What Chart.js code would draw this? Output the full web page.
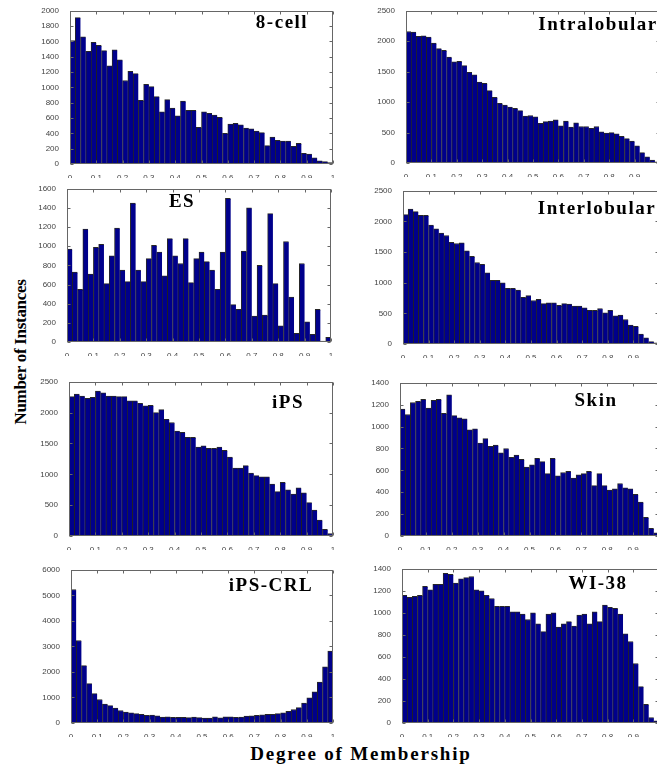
<!DOCTYPE html>
<html>
<head>
<meta charset="utf-8">
<script src="https://cdn.jsdelivr.net/npm/chart.js@4.4.1/dist/chart.umd.min.js"></script>
<style>
    html, body { margin: 0; padding: 0; background: #fff; }
    body { width: 657px; height: 767px; overflow: hidden; position: relative; }
    .panel { position: absolute; }
    .panel canvas { display: block; }
    .title {
        position: absolute;
        font: bold 19px "Liberation Serif", "Times New Roman", serif;
        letter-spacing: 1.5px;
        line-height: 19px;
        color: #000;
        white-space: nowrap;
        transform: translateX(-50%);
    }
    #yTitle {
        position: absolute;
        left: 21px; top: 352px;
        font: bold 17px "Liberation Serif", "Times New Roman", serif;
        letter-spacing: -0.3px;
        white-space: nowrap;
        transform: translate(-50%, -50%) rotate(-90deg);
    }
    #xTitle {
        position: absolute;
        left: 361px; top: 744px;
        font: bold 19px "Liberation Serif", "Times New Roman", serif;
        letter-spacing: 1.8px;
        line-height: 19px;
        white-space: nowrap;
        transform: translateX(-50%);
    }
</style>
</head>
<body>
<div id="yTitle">Number of Instances</div>
<div id="xTitle">Degree of Membership</div>

<script>
// bin centres (50 bins of width 0.02)
const binCenters = [0.01, 0.03, 0.05, 0.07, 0.09, 0.11, 0.13, 0.15, 0.17, 0.19,
    0.21, 0.23, 0.25, 0.27, 0.29, 0.31, 0.33, 0.35, 0.37, 0.39,
    0.41, 0.43, 0.45, 0.47, 0.49, 0.51, 0.53, 0.55, 0.57, 0.59,
    0.61, 0.63, 0.65, 0.67, 0.69, 0.71, 0.73, 0.75, 0.77, 0.79,
    0.81, 0.83, 0.85, 0.87, 0.89, 0.91, 0.93, 0.95, 0.97, 0.99];
const xTickLabels = ['0', '0.1', '0.2', '0.3', '0.4', '0.5', '0.6', '0.7', '0.8', '0.9', '1'];

const cell8 = [1610, 1910, 1660, 1470, 1590, 1550, 1480, 1280, 1490, 1360,
    1090, 1210, 1180, 830, 1040, 1010, 880, 680, 840, 730,
    630, 820, 700, 700, 480, 680, 660, 640, 610, 400,
    520, 530, 510, 470, 460, 430, 410, 240, 350, 310,
    300, 300, 230, 270, 140, 130, 80, 40, 30, 20];
const intralobular = [2160, 2150, 2080, 2090, 2070, 1970, 1880, 1850, 1740, 1660,
    1670, 1600, 1490, 1450, 1330, 1310, 1190, 1080, 980, 950,
    920, 900, 860, 770, 780, 760, 650, 680, 690, 710,
    610, 690, 590, 660, 600, 600, 570, 600, 510, 490,
    500, 480, 440, 400, 360, 280, 170, 100, 50, 20];
const es = [970, 730, 550, 1180, 710, 990, 1020, 610, 900, 1190,
    750, 630, 1450, 750, 630, 870, 1010, 940, 690, 1080,
    900, 820, 1080, 620, 870, 940, 840, 750, 550, 940,
    1500, 390, 340, 950, 1400, 270, 800, 280, 1340, 610,
    170, 1050, 470, 90, 820, 210, 80, 340, 10, 50];
const interlobular = [2110, 2200, 2160, 2100, 2100, 1940, 1880, 1810, 1770, 1660,
    1640, 1650, 1520, 1430, 1330, 1300, 1160, 1040, 1040, 1000,
    910, 910, 880, 760, 790, 710, 730, 660, 670, 670,
    630, 660, 650, 620, 620, 590, 550, 550, 580, 510,
    550, 460, 470, 400, 310, 290, 160, 100, 40, 20];
const ips = [2260, 2300, 2270, 2230, 2250, 2350, 2320, 2270, 2270, 2260,
    2260, 2190, 2190, 2150, 2110, 2120, 2000, 2050, 1890, 1840,
    1700, 1680, 1600, 1600, 1440, 1460, 1420, 1420, 1440, 1390,
    1280, 1100, 1100, 1140, 1020, 980, 960, 960, 840, 720,
    870, 750, 680, 780, 700, 540, 420, 260, 110, 40];
const skin = [1160, 1110, 1220, 1230, 1250, 1170, 1240, 1250, 1120, 1290,
    1100, 1080, 1070, 970, 980, 850, 890, 820, 830, 760,
    800, 720, 740, 700, 630, 650, 710, 680, 570, 710,
    550, 580, 590, 530, 560, 570, 590, 460, 570, 460,
    420, 430, 480, 440, 430, 380, 310, 170, 70, 30];
const ipsCrl = [5230, 3230, 2250, 1540, 1150, 920, 740, 680, 580, 490,
    430, 400, 370, 340, 300, 310, 280, 230, 240, 220,
    220, 220, 210, 230, 210, 190, 190, 240, 200, 240,
    240, 220, 230, 270, 280, 300, 320, 340, 340, 370,
    400, 460, 530, 600, 780, 990, 1220, 1600, 2200, 2820];
const wi38 = [1160, 1140, 1150, 1160, 1240, 1210, 1260, 1260, 1360, 1350,
    1270, 1310, 1320, 1330, 1210, 1200, 1160, 1130, 1060, 1060,
    1060, 1010, 1010, 990, 940, 1000, 900, 830, 990, 1000,
    870, 900, 920, 880, 980, 990, 900, 1010, 920, 1070,
    1050, 1040, 990, 810, 740, 540, 330, 170, 50, 20];

const panelTitles = ['8-cell', 'Intralobular', 'ES', 'Interlobular', 'iPS', 'Skin', 'iPS-CRL', 'WI-38'];
const panelValues = [cell8, intralobular, es, interlobular, ips, skin, ipsCrl, wi38];
const panelYMax = [2000, 2500, 1600, 2500, 2500, 1400, 6000, 1400];
const panelYStep = [200, 500, 200, 500, 500, 200, 1000, 200];

// plot boxes [left, top, right, bottom] and title anchors [centre x, baseline y]
const plotBoxes = [
    [70, 9, 333, 164], [406, 9, 660, 163],
    [67, 187, 331, 342], [403, 189, 659, 344],
    [69, 380, 333, 536], [400, 381, 659, 536],
    [71, 568, 333, 723], [402, 567, 659, 723]
];
const titleAnchors = [
    [282, 29], [598, 31],
    [182, 208], [597, 215],
    [288, 409], [596, 407],
    [271, 592], [598, 590]
];

const Y_AXIS_W = 34, X_AXIS_H = 14, PAD_TOP = 6, PAD_RIGHT = 6;

// MATLAB-like box with inward ticks on all four sides
const boxPlugin = {
    id: 'matlabBox',
    afterDatasetsDraw(chart) {
        const ctx = chart.ctx;
        const a = chart.chartArea;
        const xs = chart.scales.x, ys = chart.scales.y;
        ctx.save();
        ctx.strokeStyle = '#666';
        ctx.lineWidth = 1;
        const l = Math.round(a.left) + 0.5, r = Math.round(a.right) - 0.5;
        const t = Math.round(a.top) + 0.5, b = Math.round(a.bottom) - 0.5;
        ctx.strokeRect(l, t, r - l, b - t);
        ctx.beginPath();
        xs.ticks.forEach(tk => {
            const px = Math.round(xs.getPixelForValue(tk.value)) + 0.5;
            ctx.moveTo(px, b); ctx.lineTo(px, b - 3);
            ctx.moveTo(px, t); ctx.lineTo(px, t + 3);
        });
        ys.ticks.forEach(tk => {
            const py = Math.round(ys.getPixelForValue(tk.value)) + 0.5;
            ctx.moveTo(l, py); ctx.lineTo(l + 3, py);
            ctx.moveTo(r, py); ctx.lineTo(r - 3, py);
        });
        ctx.stroke();
        ctx.restore();
    }
};

function makePanel(i) {
    const [L, T, R, B] = plotBoxes[i];
    const w = (R - L) + Y_AXIS_W + PAD_RIGHT;
    const h = (B - T) + PAD_TOP + X_AXIS_H;

    const div = document.createElement('div');
    div.className = 'panel';
    div.style.left = (L - Y_AXIS_W) + 'px';
    div.style.top = (T - PAD_TOP) + 'px';
    div.style.width = w + 'px';
    div.style.height = h + 'px';
    const canvas = document.createElement('canvas');
    canvas.width = w;
    canvas.height = h;
    div.appendChild(canvas);
    document.body.appendChild(div);

    const title = document.createElement('div');
    title.className = 'title';
    title.textContent = panelTitles[i];
    title.style.left = titleAnchors[i][0] + 'px';
    title.style.top = (titleAnchors[i][1] - 17) + 'px';
    document.body.appendChild(title);

    const values = panelValues[i];
    const tickFont = { family: '"Liberation Sans", Arial, sans-serif', size: 8 };

    new Chart(canvas, {
        type: 'bar',
        data: {
            datasets: [{
                data: binCenters.map((c, k) => ({ x: c, y: values[k] })),
                backgroundColor: '#00008b',
                borderColor: 'rgba(0,0,0,0.85)',
                borderWidth: { top: 1, left: 1, right: 0, bottom: 0 },
                borderSkipped: false,
                barPercentage: 1,
                categoryPercentage: 1
            }]
        },
        options: {
            responsive: false,
            animation: false,
            devicePixelRatio: 1,
            layout: { padding: { top: PAD_TOP, right: PAD_RIGHT, left: 0, bottom: 0 } },
            plugins: { legend: { display: false }, tooltip: { enabled: false } },
            scales: {
                x: {
                    type: 'linear',
                    min: 0,
                    max: 1,
                    offset: false,
                    grid: { display: false, offset: false },
                    border: { display: false },
                    ticks: {
                        stepSize: 0.1,
                        autoSkip: false,
                        maxRotation: 0,
                        padding: 1,
                        color: '#444',
                        font: tickFont,
                        callback: (v, k) => xTickLabels[k]
                    },
                    afterFit(scale) { scale.height = X_AXIS_H; }
                },
                y: {
                    min: 0,
                    max: panelYMax[i],
                    grid: { display: false },
                    border: { display: false },
                    ticks: {
                        stepSize: panelYStep[i],
                        padding: 3,
                        color: '#444',
                        font: tickFont,
                        callback: v => String(v)
                    },
                    afterFit(scale) { scale.width = Y_AXIS_W; }
                }
            }
        },
        plugins: [boxPlugin]
    });
}

document.addEventListener('DOMContentLoaded', function() {
    for (let i = 0; i < panelTitles.length; i++) {
        makePanel(i);
    }
});
</script>
</body>
</html>
